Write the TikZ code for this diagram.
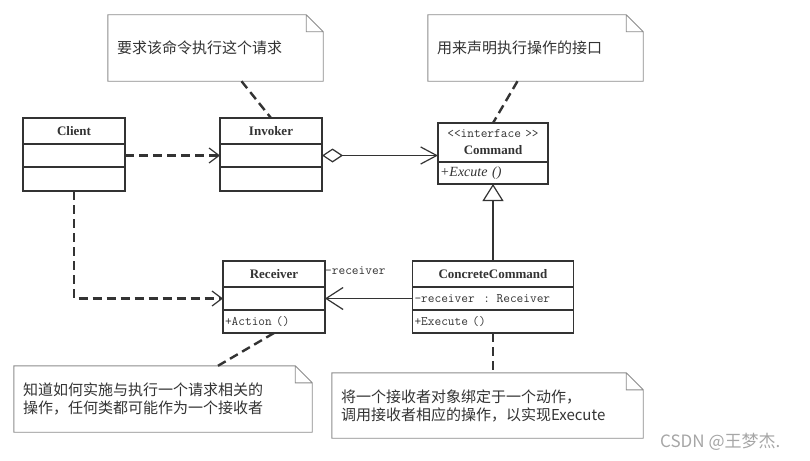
\documentclass[tikz,border=0pt]{standalone}
\usepackage{fontspec}
\setmainfont{Liberation Serif}
\newfontfamily\cjk{Noto Sans CJK SC}
\usepackage{tikz}
\usetikzlibrary{arrows.meta, positioning}

\definecolor{boxcol}{HTML}{333333}
\definecolor{notecol}{HTML}{8C8C8C}
\definecolor{txtcol}{HTML}{333333}
\definecolor{wmcol}{HTML}{A6A6A6}

\tikzset{
  clsbox/.style={draw=boxcol, line width=1.3pt, inner xsep=2pt, inner ysep=0pt, outer sep=0pt, align=left, text=txtcol},
  clshead/.style={clsbox, align=center, minimum height=26pt, font=\fontsize{13}{17}\selectfont\bfseries},
  clsmem/.style={clsbox, minimum height=23pt, font=\fontsize{13}{14}\selectfont\ttfamily},
  note/.style={inner xsep=9pt, inner ysep=0pt, minimum height=66pt, align=left, text=txtcol, font=\cjk\fontsize{15}{18}\selectfont},
  noteline/.style={draw=notecol, line width=0.9pt},
  notelink/.style={draw=boxcol, line width=2.4pt, dash pattern=on 9pt off 5pt},
  depline/.style={notelink, -{Straight Barb[length=10pt, width=15pt, line width=1.2pt]}},
  assoc/.style={draw=boxcol, line width=1.2pt}
}

\begin{document}
\begin{tikzpicture}[x=1pt, y=-1pt]
    \useasboundingbox[fill=white] (0,0) rectangle (810,460);

    % classes
    \node[clshead, text width=98pt] (client) at (74,131) {Client};
    \node[clsmem, text width=98pt, below=0pt of client] (client-a) {};
    \node[clsmem, text width=98pt, minimum height=24pt, below=0pt of client-a] (client-o) {};

    \node[clshead, text width=98pt] (invoker) at (271,131) {Invoker};
    \node[clsmem, text width=98pt, below=0pt of invoker] (invoker-a) {};
    \node[clsmem, text width=98pt, minimum height=24pt, below=0pt of invoker-a] (invoker-o) {};

    \node[clshead, text width=106pt, minimum height=39pt] (command) at (493,142.5)
        {{\fontsize{13}{17}\selectfont\mdseries\ttfamily <{}<interface >{}>}\\Command};
    \node[clsmem, text width=106pt, minimum height=22pt, below=0pt of command,
        font=\fontsize{14}{14}\selectfont\itshape] (command-o) {+Excute ()};

    \node[clshead, text width=98pt] (receiver) at (274,274) {Receiver};
    \node[clsmem, text width=98pt, below=0pt of receiver] (receiver-a) {};
    \node[clsmem, text width=98pt, below=0pt of receiver-a] (receiver-o) {+Action ()};

    \node[clshead, text width=157pt] (concrete) at (493,274) {ConcreteCommand};
    \node[clsmem, text width=157pt, below=0pt of concrete] (concrete-a) {-receiver \ : Receiver};
    \node[clsmem, text width=157pt, below=0pt of concrete-a] (concrete-o) {+Execute ()};

    \node[anchor=west, inner sep=0pt, text=txtcol, font=\fontsize{13}{14}\selectfont\ttfamily]
        (rolename) at ([yshift=3pt]receiver.east) {-receiver};

    % notes
    \node[note, text width=197pt] (note1) at (215.5,48) {要求该命令执行这个请求};
    \node[note, text width=197pt] (note2) at (535.5,48) {用来声明执行操作的接口};
    \node[note, text width=280pt] (note3) at (163,399)
        {知道如何实施与执行一个请求相关的\\操作，任何类都可能作为一个接收者};
    \node[note, text width=293pt, minimum height=65pt] (note4) at (487.5,405.5)
        {将一个接收者对象绑定于一个动作，\\调用接收者相应的操作，以实现Execute};
    \foreach \n in {note1,note2,note3,note4}
        \draw[noteline] (\n.north west) -- ([xshift=-17pt]\n.north east) -- ([yshift=-17pt]\n.north east)
            -- (\n.south east) -- (\n.south west) -- cycle
            ([xshift=-17pt]\n.north east) |- ([yshift=-17pt]\n.north east);

    % connectors
    \draw[depline] (client-a.east) -- (invoker-a.west);
    \draw[depline] (client-o.south) |- (receiver-a.west);
    \draw[assoc, {Diamond[open, length=21pt, width=14pt, line width=1.2pt]}-{Straight Barb[length=16pt, width=17pt, line width=1.2pt]}]
        (invoker-a.east) -- (invoker-a.east -| command.west);
    \draw[assoc, -{Triangle[open, length=17pt, width=21pt, line width=1.2pt]}] (concrete.north) -- (command-o.south);
    \draw[assoc, -{Straight Barb[length=17pt, width=22pt, line width=1.2pt]}] (concrete-a.west) -- (receiver-a.east);

    \draw[notelink] ([xshift=26pt]note1.south) -- (invoker.north);
    \draw[notelink] ([xshift=-18pt]note2.south) -- (command.north);
    \draw[notelink] (receiver-o.south) -- ([xshift=55pt]note3.north);
    \draw[notelink] (concrete-o.south) -- (concrete-o.south |- note4.north);

    \node[anchor=west, inner sep=0pt, text=wmcol, font=\cjk\fontsize{17}{17}\selectfont] (mark) at (660,442) {CSDN @王梦杰.};
\end{tikzpicture}
\end{document}
